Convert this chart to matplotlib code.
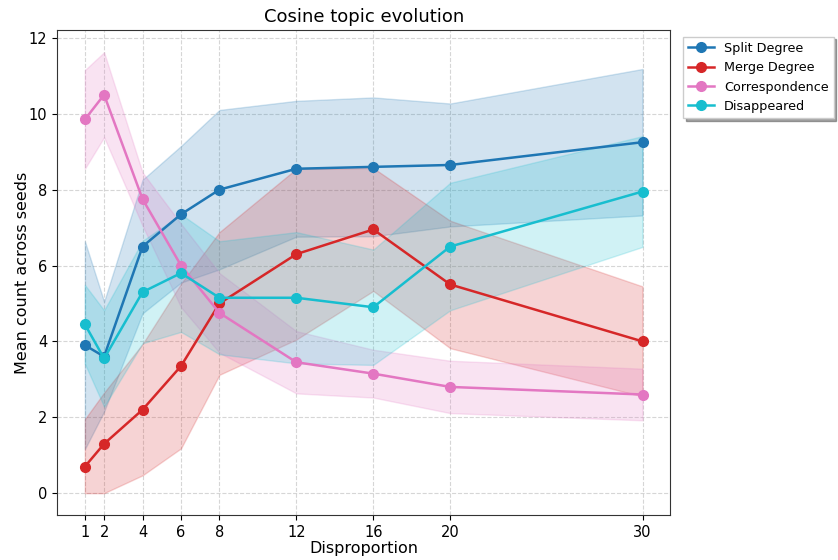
import matplotlib
matplotlib.use("Agg")
import matplotlib.pyplot as plt
import numpy as np

x = [1, 2, 4, 6, 8, 12, 16, 20, 30]

split_mean = [3.9, 3.6, 6.5, 7.35, 8.0, 8.55, 8.6, 8.65, 9.25]
split_std = [2.74, 1.45, 1.76, 1.8, 2.1, 1.79, 1.83, 1.62, 1.93]

merge_mean = [0.7, 1.3, 2.2, 3.35, 5.0, 6.3, 6.95, 5.5, 4.0]
merge_std = [1.25, 1.35, 1.73, 2.17, 1.88, 2.25, 1.62, 1.68, 1.45]

corr_mean = [9.85, 10.5, 7.75, 6.0, 4.75, 3.45, 3.15, 2.8, 2.6]
corr_std = [1.3, 1.12, 0.7, 1.1, 1.05, 0.82, 0.63, 0.69, 0.68]

dis_mean = [4.45, 3.55, 5.3, 5.8, 5.15, 5.15, 4.9, 6.5, 7.95]
dis_std = [1.04, 1.27, 1.35, 1.55, 1.49, 1.73, 1.52, 1.68, 1.46]

series = [
    ("Split Degree", split_mean, split_std, "#1f77b4"),
    ("Merge Degree", merge_mean, merge_std, "#d62728"),
    ("Correspondence", corr_mean, corr_std, "#e377c2"),
    ("Disappeared", dis_mean, dis_std, "#17becf"),
]

fig = plt.figure(figsize=(8.38, 5.6), dpi=100)
ax = fig.add_axes([0.068, 0.08, 0.732, 0.866])

for name, m, s, c in series:
    m = np.array(m)
    s = np.array(s)
    lo = np.clip(m - s, 0, None)
    hi = m + s
    ax.fill_between(x, lo, hi, color=c, alpha=0.2, linewidth=1)
    ax.plot(x, m, marker="o", color=c, label=name, linewidth=1.8, markersize=7)

ax.set_xticks(x)
ax.set_xticklabels([str(v) for v in x], fontsize=10.5)
ax.set_yticks([0, 2, 4, 6, 8, 10, 12])
ax.tick_params(axis="y", labelsize=10.5)
ax.grid(True, linestyle="--", color="#cccccc", alpha=0.8, linewidth=0.8)
ax.set_axisbelow(True)
for sp in ax.spines.values():
    sp.set_color("#333333")

ax.set_title("Cosine topic evolution", fontsize=13)
ax.set_xlabel("Disproportion", fontsize=11.5, labelpad=1)
ax.set_ylabel("Mean count across seeds", fontsize=11.5, labelpad=-1)

ax.legend(loc="upper left", bbox_to_anchor=(1.01, 1.0), fontsize=9.2,
          shadow=True, fancybox=False, framealpha=1, handlelength=2.0)

fig.savefig("out.png", dpi=100)
